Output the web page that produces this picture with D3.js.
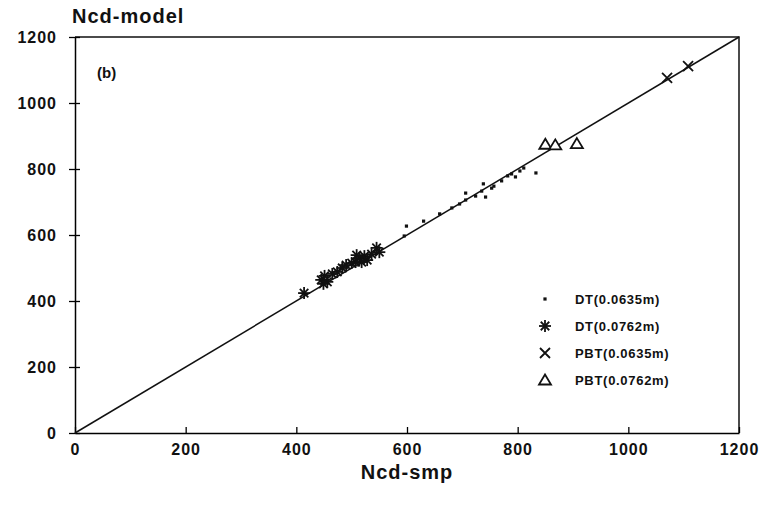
<!DOCTYPE html>
<html>
<head>
<meta charset="utf-8">
<script src="https://cdn.jsdelivr.net/npm/d3@7"></script>
<style>
  body { margin: 0; background: #fff; }
  text { font-family: "Liberation Sans", Arial, sans-serif; font-weight: bold; fill: #111; }
</style>
</head>
<body>
<svg id="chart" width="768" height="505"></svg>
<script>
// values
const dt0635 = [
  [595, 597], [599, 627], [630, 642], [659, 664], [681, 682], [695, 694],
  [706, 706], [706, 727], [724, 718], [735, 733], [738, 755], [742, 715],
  [753, 742], [757, 748], [771, 764], [782, 779], [789, 785], [796, 776],
  [804, 794], [811, 803], [833, 788]
];
const dt0762 = [
  [414, 424], [445, 464], [449, 452], [451, 476], [456, 458], [465, 482],
  [474, 488], [483, 500], [490, 509], [500, 515], [507, 518], [509, 539],
  [514, 530], [518, 518], [523, 536], [528, 524], [536, 542], [545, 561],
  [550, 548]
];
const pbt0635 = [[1070, 1076], [1108, 1112]];
const pbt0762 = [[850, 875], [868, 873], [907, 877]];
const ticks = [0, 200, 400, 600, 800, 1000, 1200];
const legendLabels = ["DT(0.0635m)", "DT(0.0762m)", "PBT(0.0635m)", "PBT(0.0762m)"];

(function () {
  const svg = d3.select("#chart"),
    margin = { top: 37, right: 29, bottom: 72, left: 75 },
    width = +svg.attr("width") - margin.left - margin.right,
    height = +svg.attr("height") - margin.top - margin.bottom;

  const chart = svg.append("g").attr("transform", `translate(${margin.left},${margin.top})`);

  const x = d3.scaleLinear().domain([0, 1200]).range([0, width]);
  const y = d3.scaleLinear().domain([0, 1200]).range([height, 0]);

  // frame (top and right)
  chart.append("path")
    .attr("d", `M0,0H${width}V${height}`)
    .attr("fill", "none").attr("stroke", "#111").attr("stroke-width", 1.5);

  // x axis, ticks pointing in
  const xAxis = chart.append("g")
    .attr("transform", `translate(0,${height})`)
    .call(d3.axisBottom(x).tickValues(ticks).tickFormat(d3.format("d"))
      .tickSizeInner(-6).tickSizeOuter(0).tickPadding(11));
  xAxis.select(".domain").attr("stroke-width", 1.5);
  xAxis.selectAll(".tick line").attr("stroke-width", 1.3);
  xAxis.selectAll(".tick text").style("font-size", "16px").style("letter-spacing", "1px").attr("font-family", null);

  // y axis, ticks crossing
  const yAxis = chart.append("g")
    .call(d3.axisLeft(y).tickValues(ticks).tickFormat(d3.format("d"))
      .tickSizeInner(6).tickSizeOuter(0).tickPadding(12));
  yAxis.select(".domain").attr("stroke-width", 1.5);
  yAxis.selectAll(".tick line").attr("x2", 5).attr("x1", -6).attr("stroke-width", 1.3);
  yAxis.selectAll(".tick text").style("font-size", "16px").style("letter-spacing", "1px").attr("font-family", null);

  // 1:1 line
  chart.append("line")
    .attr("x1", x(0)).attr("y1", y(0)).attr("x2", x(1200)).attr("y2", y(1200))
    .attr("stroke", "#111").attr("stroke-width", 1.5);

  // marker drawers
  function dot(g) {
    g.append("rect").attr("x", -1.6).attr("y", -1.6).attr("width", 3.2).attr("height", 3.2).attr("fill", "#111");
  }
  function star(g) {
    const r = 6;
    d3.range(4).forEach(i => {
      const a = i * Math.PI / 4;
      g.append("line")
        .attr("x1", -r * Math.cos(a)).attr("y1", -r * Math.sin(a))
        .attr("x2", r * Math.cos(a)).attr("y2", r * Math.sin(a))
        .attr("stroke", "#111").attr("stroke-width", 1.8);
    });
  }
  function cross(g) {
    const r = 5;
    g.append("path").attr("d", `M${-r},${-r}L${r},${r}M${-r},${r}L${r},${-r}`)
      .attr("stroke", "#111").attr("stroke-width", 1.8).attr("fill", "none");
  }
  function tri(g) {
    g.append("path").attr("d", "M0,-5.5L6,4.5H-6Z")
      .attr("stroke", "#111").attr("stroke-width", 1.8).attr("fill", "#fff");
  }

  const series = [
    { data: dt0762, draw: star },
    { data: dt0635, draw: dot },
    { data: pbt0635, draw: cross },
    { data: pbt0762, draw: tri }
  ];

  series.forEach(s => {
    chart.append("g").selectAll("g")
      .data(s.data)
      .enter().append("g")
      .attr("transform", d => `translate(${x(d[0])},${y(d[1])})`)
      .each(function () { s.draw(d3.select(this)); });
  });

  // legend
  const legendDraw = [dot, star, cross, tri];
  const legend = svg.selectAll(".legend")
    .data(legendLabels)
    .enter().append("g")
    .attr("class", "legend")
    .attr("transform", (d, i) => `translate(545, ${299 + i * 27})`);

  legend.each(function (d, i) { legendDraw[i](d3.select(this)); });

  legend.append("text")
    .attr("x", 30)
    .attr("y", 5)
    .style("font-size", "13px")
    .style("letter-spacing", "0.7px")
    .text(d => d);

  // titles
  svg.append("text")
    .attr("x", 72).attr("y", 23)
    .style("font-size", "20px")
    .style("letter-spacing", "1px")
    .text("Ncd-model");

  svg.append("text")
    .attr("x", 97).attr("y", 78)
    .style("font-size", "15px")
    .text("(b)");

  svg.append("text")
    .attr("x", margin.left + width / 2).attr("y", 479)
    .attr("text-anchor", "middle")
    .style("font-size", "20px")
    .style("letter-spacing", "1px")
    .text("Ncd-smp");
})();
</script>
</body>
</html>
